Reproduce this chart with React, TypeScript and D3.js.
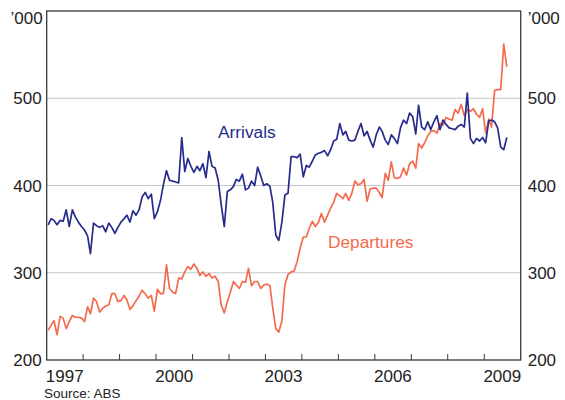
import React from "react";
import * as d3 from "d3";

const START_YEAR = 1997;
const arrivals: number[] = [
  355, 362, 360, 355, 360, 359, 372, 353, 372, 364, 358, 353,
  349, 342, 322, 357, 354, 352, 354, 347, 357, 352, 345, 352,
  358, 362, 366, 358, 371, 366, 372, 387, 392, 385, 390, 362,
  370, 383, 401, 417, 406, 405, 404, 403, 455, 416, 431, 422,
  415, 422, 417, 425, 409, 439, 422, 420, 406, 378, 353, 393,
  395, 399, 407, 405, 413, 395, 397, 405, 400, 421, 411, 400,
  402, 399, 381, 343, 337, 358, 389, 391, 433, 433, 432, 436,
  410, 423, 421, 428, 435, 437, 438, 440, 434, 441, 451, 453,
  471, 458, 462, 452, 451, 452, 462, 471, 457, 462, 452, 444,
  458, 467, 462, 452, 447, 458, 454, 448, 466, 475, 471, 483,
  479, 459, 492, 467, 464, 473, 464, 473, 480, 464, 475, 470,
  466, 465, 464, 468, 470, 467, 506, 454, 448, 454, 451, 455,
  449, 474, 475, 473, 466, 444, 441, 455,
];
const departures: number[] = [
  234, 240, 245, 229, 250, 248, 236, 244, 251, 249, 249, 248,
  244, 261, 253, 271, 267, 255, 259, 262, 263, 276, 276, 267,
  268, 274, 269, 258, 262, 268, 273, 280, 276, 271, 274, 256,
  281, 276, 276, 309, 282, 278, 276, 294, 293, 301, 307, 304,
  310, 305, 297, 301, 296, 299, 294, 296, 290, 263, 254, 267,
  278, 290, 286, 282, 290, 289, 305, 285, 290, 290, 282, 286,
  287, 285, 260, 236, 232, 245, 286, 298, 301, 302, 313, 328,
  341, 341, 351, 359, 353, 358, 368, 358, 366, 374, 381, 391,
  388, 385, 391, 383, 391, 405, 401, 402, 407, 382, 396, 397,
  397, 392, 386, 414, 406, 427, 409, 408, 410, 420, 412, 425,
  428, 420, 448, 443, 449, 457, 462, 463, 460, 471, 469, 478,
  476, 475, 487, 483, 493, 480, 487, 485, 488, 482, 478, 488,
  460, 476, 467, 509, 510, 510, 562, 536,
];
const yearLabels: number[] = [1997, 2000, 2003, 2006, 2009];
const yTicks: number[] = [200, 300, 400, 500];
const gridValues: number[] = [300, 400, 500];
const unitLabel = "\u2019000";
const sourceText = "Source: ABS";

const W = 565;
const H = 400;
const L = 46.7;
const R = 520.7;
const T = 11;
const B = 360;
const FONT = "Arial, 'Liberation Sans', Helvetica, sans-serif";
const NAVY = "#272c8c";
const ORANGE = "#f36b4c";
const AXIS = "#3a3a3a";
const GRID = "#c4c7cf";

export default function App() {
  const x = d3
    .scaleTime()
    .domain([new Date(1997, 0, 1), new Date(2010, 0, 1)])
    .range([L, R]);
  const y = d3.scaleLinear().domain([200, 600]).range([B, T]);

  const dateOf = (i: number) => new Date(START_YEAR, i, 15);
  const line = d3
    .line<number>()
    .x((_, i) => x(dateOf(i)))
    .y((d) => y(d));

  const yearTicks = d3.range(1998, 2010).map((yr) => new Date(yr, 0, 1));

  return (
    <svg
      width={W}
      height={H}
      style={{ position: "absolute", left: 0, top: 0, background: "#fff" }}
      fontFamily={FONT}
    >
      <rect x={0} y={0} width={W} height={H} fill="#fff" />
      {gridValues.map((v) => (
        <line key={v} x1={L} x2={R} y1={y(v)} y2={y(v)} stroke={GRID} strokeWidth={1.2} />
      ))}
      {yearTicks.map((d, i) => (
        <line key={i} x1={x(d)} x2={x(d)} y1={B} y2={B - 6} stroke={AXIS} strokeWidth={1} />
      ))}
      <path d={line(departures) || ""} fill="none" stroke={ORANGE} strokeWidth={1.7} strokeLinejoin="round" />
      <path d={line(arrivals) || ""} fill="none" stroke={NAVY} strokeWidth={1.7} strokeLinejoin="round" />
      <rect x={L} y={T} width={R - L} height={B - T} fill="none" stroke={AXIS} strokeWidth={1.3} />
      {yTicks.map((v) => (
        <g key={v}>
          <text x={L - 5} y={y(v)} dy="0.36em" textAnchor="end" fontSize={17} fill="#222">
            {v}
          </text>
          <text x={R + 7} y={y(v)} dy="0.36em" textAnchor="start" fontSize={17} fill="#222">
            {v}
          </text>
        </g>
      ))}
      <text x={L - 4} y={y(600) + 7} dy="0.36em" textAnchor="end" fontSize={17} fill="#222">
        {unitLabel}
      </text>
      <text x={R + 7} y={y(600) + 7} dy="0.36em" textAnchor="start" fontSize={17} fill="#222">
        {unitLabel}
      </text>
      {yearLabels.map((yr) => (
        <text key={yr} x={x(new Date(yr, 6, 1))} y={382} textAnchor="middle" fontSize={17} fill="#222">
          {yr}
        </text>
      ))}
      <text x={44} y={398} fontSize={13.5} fill="#222">
        {sourceText}
      </text>
      <text x={218} y={137.5} fontSize={17.3} fill={NAVY}>
        Arrivals
      </text>
      <text x={328} y={247.5} fontSize={17.3} fill={ORANGE}>
        Departures
      </text>
    </svg>
  );
}
